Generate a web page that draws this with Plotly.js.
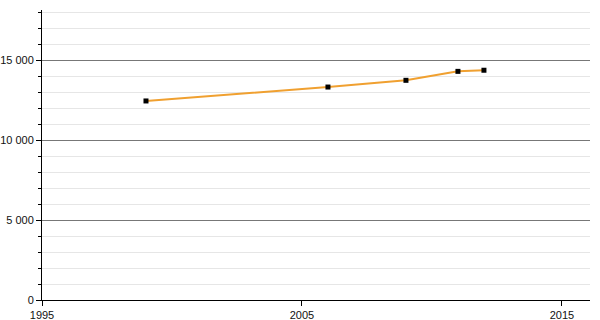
<!DOCTYPE html>
<html><head><meta charset="utf-8">
<script src="https://cdn.plot.ly/plotly-3.0.1.min.js"></script>
<style>html,body{margin:0;padding:0;background:#fff}</style>
</head><body><div id="chart" style="width:600px;height:320px"></div>
<script>
const years = [1999, 2006, 2009, 2011, 2012];
const values = [12440, 13310, 13730, 14290, 14360];
const xTicks = [1995, 2005, 2015];

Plotly.newPlot('chart', [{
  x: years, y: values, type: 'scatter', mode: 'lines+markers',
  line: {color: '#f0a030', width: 2},
  marker: {color: '#000', symbol: 'square', size: 5},
  hoverinfo: 'x+y'
}], {
  width: 600, height: 320,
  margin: {l: 42, r: 10, t: 10, b: 20},
  paper_bgcolor: '#fff', plot_bgcolor: '#fff',
  separators: '. ',
  font: {family: 'Liberation Sans, Arial, sans-serif', size: 11, color: '#111'},
  showlegend: false,
  xaxis: {
    range: [1995, 2016.08], tickvals: xTicks, ticktext: xTicks.map(String),
    showgrid: false, zeroline: false, showline: true, linecolor: '#000', linewidth: 1,
    ticks: 'outside', ticklen: 5, tickcolor: '#000'
  },
  yaxis: {
    range: [0, 18125], dtick: 5000, tickformat: ',d',
    showgrid: true, gridcolor: '#777', gridwidth: 1,
    zeroline: false, showline: true, linecolor: '#000', linewidth: 1,
    ticks: 'outside', ticklen: 5, tickcolor: '#000',
    minor: {dtick: 1000, showgrid: true, gridcolor: '#e6e6e6', ticks: 'outside', ticklen: 3, tickcolor: '#000'}
  }
}, {displayModeBar: false, staticPlot: true});
</script></body></html>
